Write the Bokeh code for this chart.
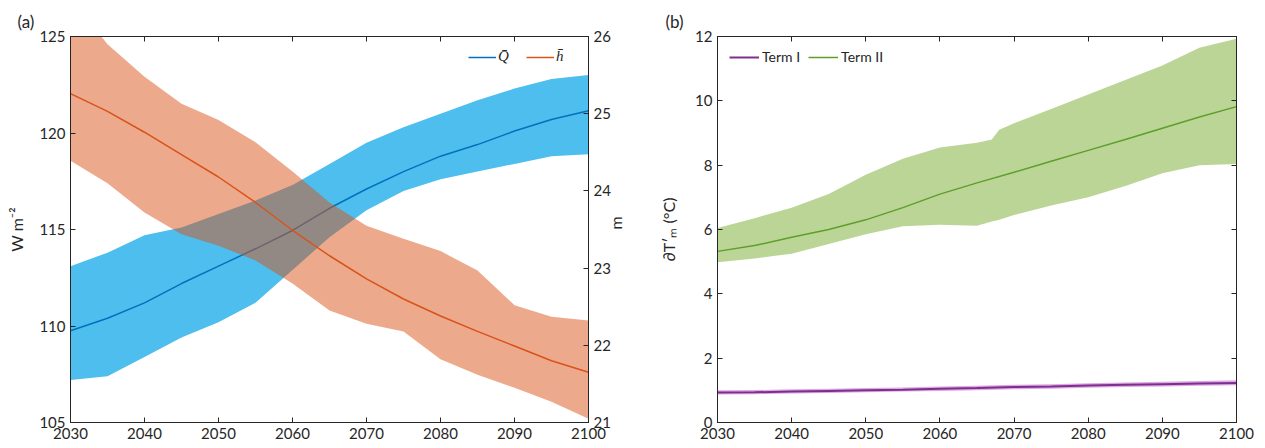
import math
from bokeh.plotting import figure
from bokeh.layouts import row
from bokeh.models import (Range1d, LinearAxis, Legend, LegendItem, FixedTicker,
                          CustomJSTickFormatter, Title)
from bokeh.embed import file_html
from bokeh.resources import INLINE

# ---------------- data ----------------
years = [2030, 2035, 2040, 2045, 2050, 2055, 2060, 2065, 2070, 2075, 2080, 2085, 2090, 2095, 2100]

# panel (a): Q (W m^-2, left axis)
q_mean = [109.75, 110.4, 111.2, 112.2, 113.1, 114.0, 114.95, 116.1, 117.1, 118.0, 118.8, 119.4, 120.1, 120.7, 121.15]
q_upper = [113.1, 113.8, 114.7, 115.1, 115.8, 116.5, 117.3, 118.4, 119.5, 120.3, 121.0, 121.7, 122.3, 122.8, 123.0]
q_lower = [107.2, 107.4, 108.4, 109.4, 110.2, 111.2, 112.9, 114.6, 116.0, 117.0, 117.6, 118.0, 118.4, 118.8, 118.9]

# panel (a): h (m, right axis)
h_mean = [25.26, 25.03, 24.76, 24.47, 24.18, 23.85, 23.49, 23.16, 22.86, 22.60, 22.38, 22.18, 21.99, 21.80, 21.65]
h_upper = [26.5, 25.9, 25.48, 25.13, 24.92, 24.63, 24.25, 23.85, 23.55, 23.38, 23.22, 22.97, 22.52, 22.37, 22.32]
h_lower = [24.39, 24.1, 23.72, 23.44, 23.29, 23.1, 22.8, 22.45, 22.28, 22.18, 21.82, 21.62, 21.45, 21.27, 21.05]

# panel (b): Term I and Term II (deg C)
t1_mean = [0.93, 0.94, 0.96, 0.98, 1.00, 1.02, 1.05, 1.07, 1.10, 1.12, 1.15, 1.17, 1.19, 1.21, 1.23]
t1_upper = [1.00, 1.01, 1.03, 1.05, 1.07, 1.09, 1.12, 1.14, 1.17, 1.19, 1.22, 1.24, 1.27, 1.29, 1.31]
t1_lower = [0.87, 0.88, 0.90, 0.92, 0.94, 0.96, 0.98, 1.00, 1.03, 1.05, 1.08, 1.10, 1.12, 1.14, 1.16]

t2_mean = [5.32, 5.50, 5.76, 6.00, 6.30, 6.68, 7.10, 7.45, 7.78, 8.12, 8.46, 8.80, 9.15, 9.50, 9.82]
t2_band_years = [2030, 2035, 2040, 2045, 2050, 2055, 2060, 2065, 2067, 2068, 2070, 2075, 2080, 2085, 2090, 2095, 2100]
t2_upper = [6.05, 6.35, 6.68, 7.10, 7.70, 8.20, 8.55, 8.70, 8.80, 9.10, 9.30, 9.75, 10.20, 10.65, 11.10, 11.65, 11.93]
t2_lower = [4.98, 5.10, 5.25, 5.55, 5.85, 6.10, 6.15, 6.12, 6.25, 6.30, 6.45, 6.75, 7.00, 7.35, 7.75, 8.00, 8.04]

x_ticks = [2030, 2040, 2050, 2060, 2070, 2080, 2090, 2100]
a_left_ticks = [105, 110, 115, 120, 125]
a_right_ticks = [21, 22, 23, 24, 25, 26]
b_ticks = [0, 2, 4, 6, 8, 10, 12]

FONT = "Lato"
INK = "#262626"


def style_axis(ax, ticks, show_labels=True):
    ax.ticker = FixedTicker(ticks=ticks)
    ax.major_tick_in = 5
    ax.major_tick_out = 0
    ax.minor_tick_line_color = None
    ax.axis_line_color = INK
    ax.major_tick_line_color = INK
    ax.major_label_text_font = FONT
    ax.major_label_text_font_size = "15px"
    ax.major_label_text_color = INK
    ax.major_label_standoff = 5
    ax.axis_label_text_font = FONT
    ax.axis_label_text_font_style = "normal"
    ax.axis_label_text_font_size = "16px"
    ax.axis_label_text_color = INK
    if not show_labels:
        ax.formatter = CustomJSTickFormatter(code="return ''")
        ax.major_label_standoff = 0


def base_fig(width, ylo, yhi, mb_left, mb_right):
    p = figure(width=width, height=448, output_backend="svg", toolbar_location=None,
               x_range=Range1d(2030, 2100), y_range=Range1d(ylo, yhi),
               min_border_left=mb_left, min_border_right=mb_right,
               min_border_top=36, min_border_bottom=26)
    p.xgrid.visible = False
    p.ygrid.visible = False
    p.outline_line_color = INK
    p.background_fill_color = "white"
    p.border_fill_color = "white"
    return p


# ---------------- panel (a) ----------------
pa = base_fig(640, 105, 125, 70, 52)
pa.extra_y_ranges = {"m": Range1d(21, 26)}

pa.varea(x=years, y1=q_lower, y2=q_upper, fill_color="#4DBEEE", fill_alpha=1.0)
lq = pa.line(x=years, y=q_mean, line_color="#0072BD", line_width=1.5)
pa.varea(x=years, y1=h_lower, y2=h_upper, fill_color="#D95319", fill_alpha=0.5, y_range_name="m")
lh = pa.line(x=years, y=h_mean, line_color="#D95319", line_width=1.5, y_range_name="m")

style_axis(pa.xaxis[0], x_ticks)
style_axis(pa.yaxis[0], a_left_ticks)
pa.yaxis[0].axis_label = "W m\u207b\u00b2"
pa.yaxis[0].axis_label_standoff = 10

ra = LinearAxis(y_range_name="m", axis_label="m")
style_axis(ra, a_right_ticks)
ra.axis_label_standoff = 2
ra.axis_label_orientation = math.pi / 2
pa.add_layout(ra, "right")

ta = LinearAxis()
style_axis(ta, x_ticks, show_labels=False)
pa.add_layout(ta, "above")

leg_a = Legend(items=[LegendItem(label="Q\u0304", renderers=[lq]),
                      LegendItem(label="h\u0304", renderers=[lh])],
               location="top_right", orientation="horizontal",
               background_fill_alpha=0, border_line_alpha=0,
               glyph_width=28, glyph_height=16, label_standoff=2, spacing=8,
               padding=2, margin=10,
               label_text_font="Liberation Serif", label_text_font_style="italic",
               label_text_font_size="15px", label_text_color=INK)
pa.add_layout(leg_a)

pa.add_layout(Title(text="(a)", align="left", offset=-53, text_font=FONT,
                    text_font_size="17px", text_font_style="normal", text_color=INK), "above")

# ---------------- panel (b) ----------------
pb = base_fig(625, 0, 12, 77, 29)

pb.varea(x=t2_band_years, y1=t2_lower, y2=t2_upper, fill_color="#77AC30", fill_alpha=0.5)
l2 = pb.line(x=years, y=t2_mean, line_color="#5E9E2A", line_width=1.5)
pb.varea(x=years, y1=t1_lower, y2=t1_upper, fill_color="#C66FD0", fill_alpha=0.6)
l1 = pb.line(x=years, y=t1_mean, line_color="#7E2F8E", line_width=2)

style_axis(pb.xaxis[0], x_ticks)
style_axis(pb.yaxis[0], b_ticks)
pb.yaxis[0].axis_label = "\u2202T\u2032\u2098 (\u00b0C)"
pb.yaxis[0].axis_label_standoff = 14

rb = LinearAxis()
style_axis(rb, b_ticks, show_labels=False)
pb.add_layout(rb, "right")
tb = LinearAxis()
style_axis(tb, x_ticks, show_labels=False)
pb.add_layout(tb, "above")

leg_b = Legend(items=[LegendItem(label="Term I", renderers=[l1]),
                      LegendItem(label="Term II", renderers=[l2])],
               location="top_left", orientation="horizontal",
               background_fill_alpha=0, border_line_alpha=0,
               glyph_width=30, glyph_height=16, label_standoff=3, spacing=8,
               padding=2, margin=10,
               label_text_font=FONT, label_text_font_size="14px", label_text_color=INK)
pb.add_layout(leg_b)

pb.add_layout(Title(text="(b)", align="left", offset=-52, text_font=FONT,
                    text_font_size="17px", text_font_style="normal", text_color=INK), "above")

layout = row(pa, pb)
open("out.html", "w").write(file_html(layout, INLINE))
